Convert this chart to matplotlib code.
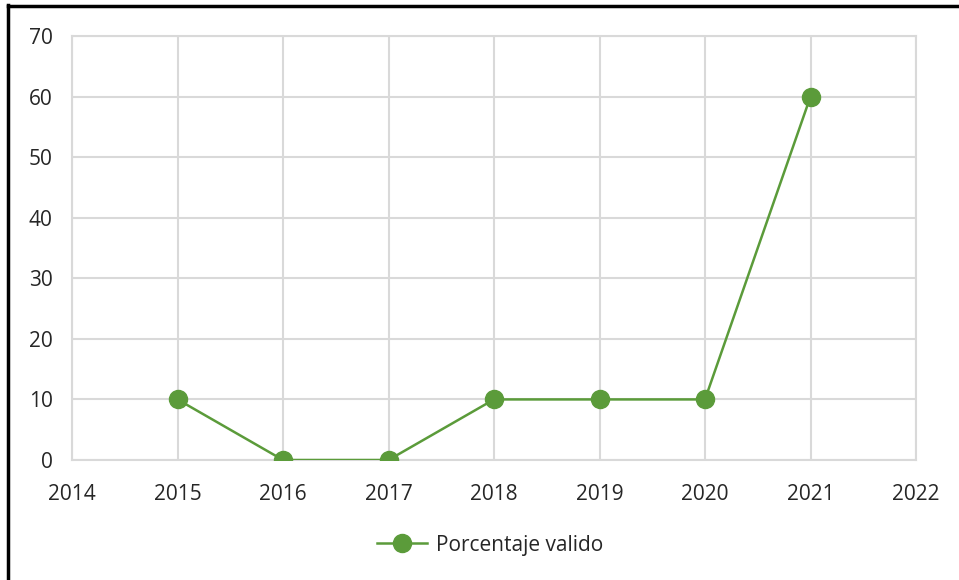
import matplotlib.pyplot as plt
from matplotlib.lines import Line2D

years = [2015, 2016, 2017, 2018, 2019, 2020, 2021]
porcentaje = [10, 0, 0, 10, 10, 10, 60]

green = '#5B9B3A'
grid = '#D9D9D9'

plt.rcParams['font.family'] = ['Open Sans', 'DejaVu Sans']

fig = plt.figure(figsize=(9.59, 5.8), dpi=100)
ax = fig.add_axes([72 / 959, 1 - 460 / 580, (916 - 72) / 959, (460 - 36) / 580])

ax.plot(years, porcentaje, color=green, linewidth=1.8, marker='o',
        markersize=13, markerfacecolor=green, markeredgecolor=green,
        label='Porcentaje valido', zorder=3)

ax.set_xlim(2014, 2022)
ax.set_ylim(0, 70)
ax.set_xticks(range(2014, 2023))
ax.set_yticks(range(0, 71, 10))
ax.grid(True, color=grid, linewidth=1.5)
for s in ax.spines.values():
    s.set_color(grid)
    s.set_linewidth(1.5)
ax.tick_params(length=0, labelsize=15, colors='#262626')
ax.tick_params(axis='x', pad=17)
ax.tick_params(axis='y', pad=14)

ax.legend(loc='center', bbox_to_anchor=(490 / 959, 1 - 545 / 580),
          bbox_transform=fig.transFigure, frameon=False, fontsize=15,
          handlelength=2.4, handletextpad=0.4, labelcolor='#262626')

# black frame along the top and left edges
fig.add_artist(Line2D([7.5 / 959, 7.5 / 959], [0, 1 - 5 / 580], color='black',
                      linewidth=2.5, transform=fig.transFigure))
fig.add_artist(Line2D([7.5 / 959, 1], [1 - 5.5 / 580, 1 - 5.5 / 580], color='black',
                      linewidth=2.5, transform=fig.transFigure))

fig.savefig('out.png', dpi=100)
